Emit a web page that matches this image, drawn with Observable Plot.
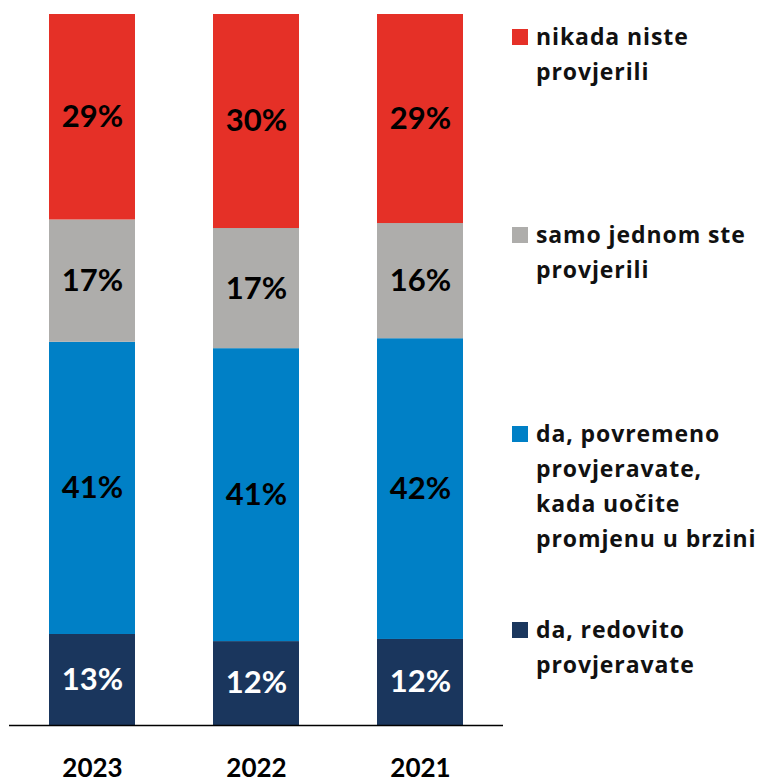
<!DOCTYPE html>
<html><head><meta charset="utf-8">
<script src="https://cdn.jsdelivr.net/npm/d3@7"></script>
<script src="https://cdn.jsdelivr.net/npm/@observablehq/plot@0.6"></script>
<style>
body{margin:0;background:#fff;}
#wrap{position:relative;width:759px;height:782px;overflow:hidden;font-family:Lato,sans-serif;}
.leg{position:absolute;left:512px;font-family:"Open Sans",sans-serif;font-weight:700;font-size:23px;letter-spacing:0.9px;line-height:35px;color:#111;white-space:nowrap;}
.sw{position:absolute;left:0;width:16px;height:16px;}
.lt{margin-left:24px;}
</style></head>
<body><div id="wrap"></div>
<script>
const years = ["2023", "2022", "2021"];
const categories = [
  "da, redovito provjeravate",
  "da, povremeno provjeravate, kada uočite promjenu u brzini",
  "samo jednom ste provjerili",
  "nikada niste provjerili"
];
const redovito  = [12.8, 11.8, 12.1];
const povremeno = [41.1, 41.2, 42.3];
const jednom    = [17.2, 16.9, 16.2];
const nikada    = [28.9, 30.1, 29.4];
const colors = ["#1A365D", "#0080C6", "#AEADAB", "#E53027"];
const legendLines = [
  ["nikada niste", "provjerili"],
  ["samo jednom ste", "provjerili"],
  ["da, povremeno", "provjeravate,", "kada uočite", "promjenu u brzini"],
  ["da, redovito", "provjeravate"]
];
const legendColors = ["#E53027", "#AEADAB", "#0080C6", "#1A365D"];
const legendTops = [19, 217, 416, 612];

const series = [redovito, povremeno, jednom, nikada];
const data = [];
years.forEach((y, i) => categories.forEach((c, k) => data.push({year: y, cat: c, value: series[k][i]})));

const chart = Plot.plot({
  width: 759, height: 782,
  marginTop: 14, marginBottom: 57, marginLeft: 9, marginRight: 256,
  style: {fontFamily: "Lato, sans-serif", color: "#000", background: "transparent"},
  x: {domain: years, paddingInner: 0.474, paddingOuter: 0.237},
  y: {domain: [0, 100], axis: null},
  color: {domain: categories, range: colors},
  marks: [
    Plot.barY(data, Plot.stackY({x: "year", y: "value", z: "cat", fill: "cat", order: categories})),
    Plot.text(data, Plot.stackY({x: "year", y: "value", z: "cat", order: categories,
      text: d => Math.round(d.value) + "%",
      fill: d => d.cat === categories[0] ? "white" : "black",
      fontSize: 31, fontWeight: "bold"})),
    Plot.ruleY([0], {stroke: "#000", strokeWidth: 1.5}),
    Plot.axisX({tickSize: 0, tickPadding: 33, fontSize: 26, fontWeight: "bold", label: null})
  ]
});
const wrap = document.getElementById("wrap");
wrap.appendChild(chart);
legendLines.forEach((lines, i) => {
  const d = document.createElement("div");
  d.className = "leg";
  d.style.top = legendTops[i] + "px";
  const sw = document.createElement("div");
  sw.className = "sw";
  sw.style.background = legendColors[i];
  sw.style.top = "10px";
  d.appendChild(sw);
  const t = document.createElement("div");
  t.className = "lt";
  t.innerHTML = lines.join("<br>");
  d.appendChild(t);
  wrap.appendChild(d);
});
</script>
</body></html>
